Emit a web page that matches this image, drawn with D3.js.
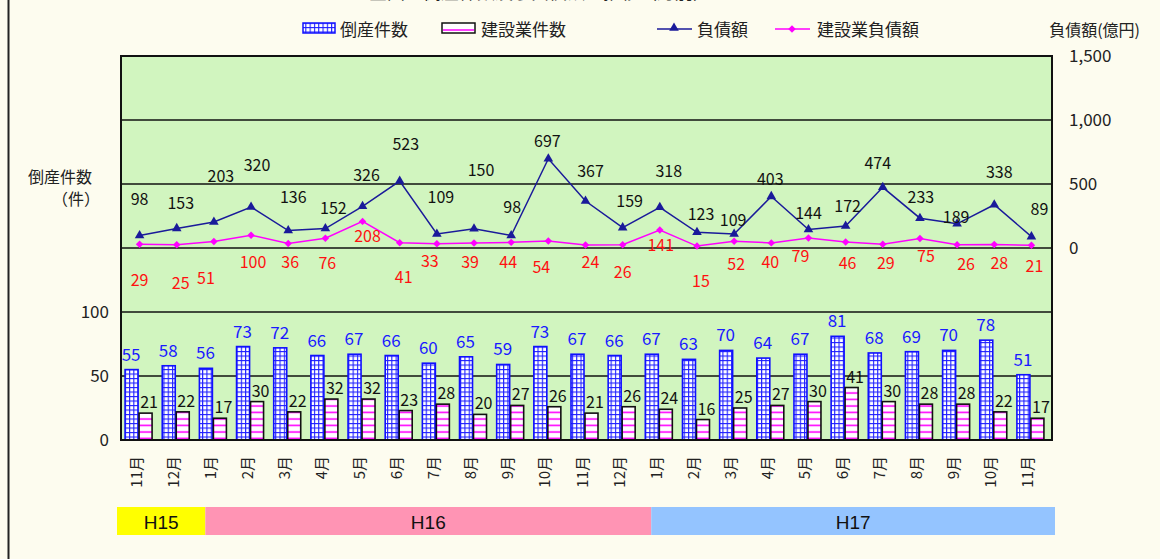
<!DOCTYPE html>
<html><head><meta charset="utf-8">
<script src="https://cdn.jsdelivr.net/npm/d3@7/dist/d3.min.js"></script>
<style>
body{margin:0;background:#fdfcef;}
svg{display:block;}
text{font-family:"Noto Sans CJK JP","DejaVu Sans",sans-serif;}
</style></head><body>
<svg id="c" width="1160" height="559"></svg>
<script>
// ---- data ----
const months = ["11月","12月","1月","2月","3月","4月","5月","6月","7月","8月","9月","10月","11月","12月","1月","2月","3月","4月","5月","6月","7月","8月","9月","10月","11月"];
const bankruptCount = [55,58,56,73,72,66,67,66,60,65,59,73,67,66,67,63,70,64,67,81,68,69,70,78,51];
const constructionCount = [21,22,17,30,22,32,32,23,28,20,27,26,21,26,24,16,25,27,30,41,30,28,28,22,17];
const debt = [98,153,203,320,136,152,326,523,109,150,98,697,367,159,318,123,109,403,144,172,474,233,189,338,89];
const constructionDebt = [29,25,51,100,36,76,208,41,33,39,44,54,24,26,141,15,52,40,79,46,29,75,26,28,21];
const leftTicks = [0,50,100];
const rightTicks = [0,500,1000,1500];
const eras = [{name:"H15",from:0,to:2},{name:"H16",from:2,to:14},{name:"H17",from:14,to:25}];
// label nudges (layout only)
const debtLabelDx = [0,4,7,6,5,8,4,6,4,7,1,-1,5,7,9,4,-1,-1,0,2,-5,1,-1,5,8];
const debtLabelDy = [-36,-25,-46,-42,-34,-21,-31,-37,-37,-59,-28,-18,-30,-27,-36,-18,-14,-17,-17,-20,-24,-21,-7,-33,-28];
const conLabelDx = [0,4,-8,2,2,2,5,4,-7,-4,-3,-7,5,0,1,4,2,-1,-8,2,3,6,9,5,3];
const conLabelDy = [36,38,37,27,19,25,15,34,17,19,20,26,17,27,15,35,23,19,18,21,19,18,19,19,21];

const svg = d3.select("#c");
const W=1160,H=559;
const x0=121,x1=1050,yTop=56,yBot=440;
const x = d3.scaleBand().domain(d3.range(months.length)).range([x0,x1]);
const yL = d3.scaleLinear().domain([0,300]).range([yBot,yTop]);
const yR = d3.scaleLinear().domain([-1500,1500]).range([yBot,yTop]);
const cx = i => x(i)+x.bandwidth()/2;

// background border line
svg.append("line").attr("x1",8.5).attr("x2",8.5).attr("y1",0).attr("y2",H).attr("stroke","#222").attr("stroke-width",2);

// title (cut off at top, as in the source)
svg.append("text").attr("x",540).attr("y",-1).attr("text-anchor","middle").attr("font-size",18).attr("fill","#222").text("全国の倒産件数及び負債額の推移（月別）");

// patterns
const defs = svg.append("defs");
const pb = defs.append("pattern").attr("id","pBlue").attr("patternUnits","userSpaceOnUse").attr("width",4.3).attr("height",4.5);
pb.append("rect").attr("width",4.3).attr("height",4.5).attr("fill","#fff");
pb.append("line").attr("x1",0.5).attr("x2",0.5).attr("y1",0).attr("y2",4.5).attr("stroke","#1f1fff").attr("stroke-width",1.2);
pb.append("line").attr("x1",0).attr("x2",4.3).attr("y1",0.5).attr("y2",0.5).attr("stroke","#1f1fff").attr("stroke-width",1.2);
const pp = defs.append("pattern").attr("id","pPink").attr("patternUnits","userSpaceOnUse").attr("width",13).attr("height",6.5);
pp.append("rect").attr("width",13).attr("height",6.5).attr("fill","#fff");
pp.append("line").attr("x1",0).attr("x2",13).attr("y1",3).attr("y2",3).attr("stroke","#ff00ff").attr("stroke-width",1.6);

// plot background
svg.append("rect").attr("x",x0).attr("y",yTop).attr("width",1052-x0).attr("height",yBot-yTop).attr("fill","#d1f5bf");
// grid
const grid = d3.range(50,300,50);
svg.selectAll(".grid").data(grid).join("line").attr("x1",x0).attr("x2",1052).attr("y1",d=>yL(d)).attr("y2",d=>yL(d)).attr("stroke","#111").attr("stroke-width",1.6);

// bars
const bw=13;
svg.selectAll(".bb").data(bankruptCount).join("rect")
 .attr("x",(d,i)=>cx(i)-bw-1.5).attr("y",d=>yL(d)).attr("width",bw).attr("height",d=>yBot-yL(d))
 .attr("fill","url(#pBlue)").attr("stroke","#1010ff").attr("stroke-width",1.6);
svg.selectAll(".pb").data(constructionCount).join("rect")
 .attr("x",(d,i)=>cx(i)-0.5).attr("y",d=>yL(d)).attr("width",bw).attr("height",d=>yBot-yL(d))
 .attr("fill","url(#pPink)").attr("stroke","#111").attr("stroke-width",1.6);

// plot border
svg.append("rect").attr("x",x0).attr("y",yTop).attr("width",1052-x0).attr("height",yBot-yTop).attr("fill","none").attr("stroke","#111").attr("stroke-width",2);

// bar labels
svg.selectAll(".bl").data(bankruptCount).join("text")
 .attr("x",(d,i)=>cx(i)-bw/2-2).attr("y",d=>yL(d)-9).attr("text-anchor","middle").attr("font-size",17).attr("fill","#1a1aff").text(d=>d);
svg.selectAll(".pl").data(constructionCount).join("text")
 .attr("x",(d,i)=>cx(i)+bw/2+3).attr("y",d=>yL(d)-5).attr("text-anchor","middle").attr("font-size",16).attr("fill","#111").text(d=>d);

// lines
const lineD = d3.line().x((d,i)=>cx(i)).y(d=>yR(d));
svg.append("path").attr("d",lineD(constructionDebt)).attr("fill","none").attr("stroke","#ff00ff").attr("stroke-width",1.5);
svg.append("path").attr("d",lineD(debt)).attr("fill","none").attr("stroke","#1a1a9a").attr("stroke-width",1.5);
svg.selectAll(".tm").data(debt).join("path")
 .attr("transform",(d,i)=>`translate(${cx(i)},${yR(d)})`).attr("d",d3.symbol(d3.symbolTriangle,40)()).attr("fill","#1a1a9a");
svg.selectAll(".dm").data(constructionDebt).join("path")
 .attr("transform",(d,i)=>`translate(${cx(i)},${yR(d)}) rotate(45)`).attr("d",d3.symbol(d3.symbolSquare,28)()).attr("fill","#ff00ff");

// line labels
svg.selectAll(".dl").data(debt).join("text")
 .attr("x",(d,i)=>cx(i)+debtLabelDx[i]).attr("y",(d,i)=>yR(d)+debtLabelDy[i]+6).attr("text-anchor","middle").attr("font-size",16).attr("fill","#111").text(d=>d);
svg.selectAll(".cl").data(constructionDebt).join("text")
 .attr("x",(d,i)=>cx(i)+conLabelDx[i]).attr("y",(d,i)=>yR(d)+conLabelDy[i]+6).attr("text-anchor","middle").attr("font-size",16).attr("fill","#ff1010").text(d=>d);

// axes
const la = svg.append("g").attr("transform",`translate(${x0-12},0)`)
 .call(d3.axisLeft(yL).tickValues(leftTicks).tickSize(0).tickPadding(0));
la.select(".domain").remove();
la.selectAll("text").attr("font-size",17).attr("fill","#222").style("font-family","'Noto Sans CJK JP',sans-serif");
const ra = svg.append("g").attr("transform",`translate(1069,0)`)
 .call(d3.axisRight(yR).tickValues(rightTicks).tickSize(0).tickPadding(0).tickFormat(d3.format(",")));
ra.select(".domain").remove();
ra.selectAll("text").attr("font-size",17).attr("fill","#222").style("font-family","'Noto Sans CJK JP',sans-serif");

// axis titles
svg.append("text").attr("x",60).attr("y",183).attr("text-anchor","middle").attr("font-size",16).attr("fill","#222").text("倒産件数");
svg.append("text").attr("x",100).attr("y",205).attr("text-anchor","end").attr("font-size",16).attr("fill","#222").text("（件）");
svg.append("text").attr("x",1140).attr("y",36).attr("text-anchor","end").attr("font-size",16).attr("fill","#222").text("負債額(億円)");

// month labels
svg.selectAll(".ml").data(months).join("text")
 .attr("transform",(d,i)=>`translate(${cx(i)+2},456) rotate(-90)`).attr("text-anchor","end").attr("font-size",15).attr("fill","#222").text(d=>d);

// era band
const bandColors = {"H15":"#ffff00","H16":"#ff94b4","H17":"#94c4ff"};
const bx = i => i===0?117:(i===25?1055:x(i)+10);
svg.selectAll(".era").data(eras).join("rect")
 .attr("x",d=>bx(d.from)).attr("y",507).attr("width",d=>bx(d.to)-bx(d.from)).attr("height",28).attr("fill",d=>bandColors[d.name]);
svg.selectAll(".eral").data(eras).join("text")
 .attr("x",d=>(bx(d.from)+bx(d.to))/2).attr("y",529).attr("text-anchor","middle").attr("font-size",19).attr("fill","#111")
 .style("font-family","'Liberation Sans',sans-serif").text(d=>d.name);

// legend
const lg = svg.append("g");
lg.append("rect").attr("x",303).attr("y",23).attr("width",32).attr("height",10).attr("fill","url(#pBlue)").attr("stroke","#1010ff").attr("stroke-width",1.5);
lg.append("text").attr("x",340).attr("y",36).attr("font-size",17).attr("fill","#222").text("倒産件数");
lg.append("rect").attr("x",442).attr("y",23).attr("width",33).attr("height",10).attr("fill","#fff").attr("stroke","#111").attr("stroke-width",1.5);
lg.append("line").attr("x1",443).attr("x2",474).attr("y1",30).attr("y2",30).attr("stroke","#ff00ff").attr("stroke-width",1.5);
lg.append("text").attr("x",481).attr("y",36).attr("font-size",17).attr("fill","#222").text("建設業件数");
lg.append("line").attr("x1",657).attr("x2",692).attr("y1",29).attr("y2",29).attr("stroke","#1a1a9a").attr("stroke-width",1.5);
lg.append("path").attr("transform","translate(674,28)").attr("d",d3.symbol(d3.symbolTriangle,40)()).attr("fill","#1a1a9a");
lg.append("text").attr("x",697).attr("y",36).attr("font-size",17).attr("fill","#222").text("負債額");
lg.append("line").attr("x1",775).attr("x2",810).attr("y1",29).attr("y2",29).attr("stroke","#ff00ff").attr("stroke-width",1.5);
lg.append("path").attr("transform","translate(792,29) rotate(45)").attr("d",d3.symbol(d3.symbolSquare,28)()).attr("fill","#ff00ff");
lg.append("text").attr("x",817).attr("y",36).attr("font-size",17).attr("fill","#222").text("建設業負債額");
</script>
</body></html>
